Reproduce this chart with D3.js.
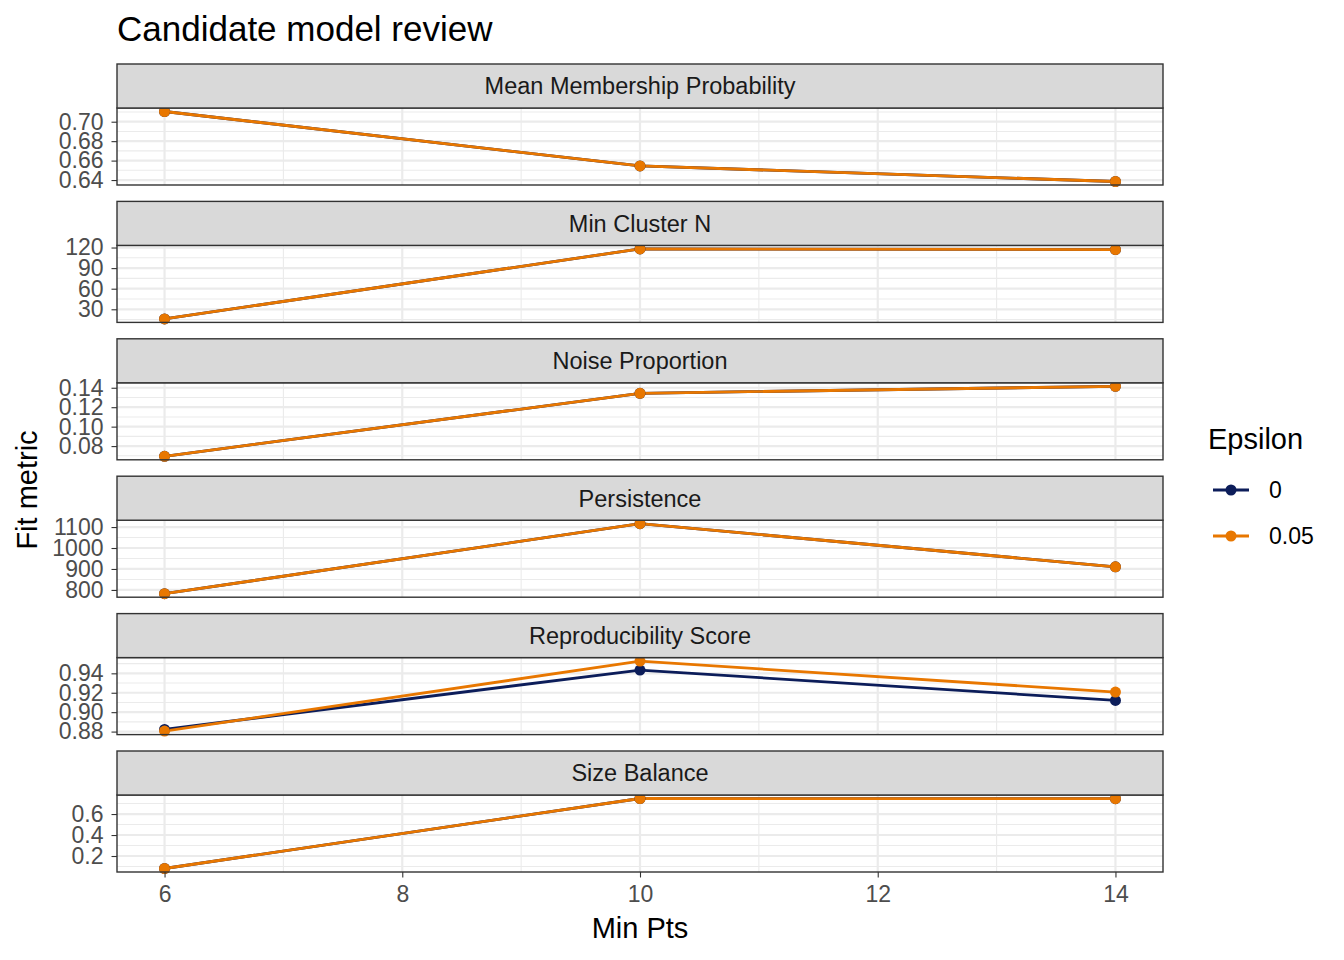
<!DOCTYPE html>
<html lang="en">
<head>
    <meta charset="UTF-8">
    <title>Candidate model review</title>
    <script src="https://d3js.org/d3.v7.min.js"></script>
    <style>
        body { margin: 0; background: #fff; }
        text { font-family: "Liberation Sans", Arial, sans-serif; }
    </style>
</head>
<body>
    <script type="text/javascript">

        // data
        var minPts = [6, 10, 14];
        var epsilons = ["0", "0.05"];
        var metrics = ["Mean Membership Probability", "Min Cluster N", "Noise Proportion",
            "Persistence", "Reproducibility Score", "Size Balance"];

        // one row per epsilon (0, 0.05)
        var meanMembership = [[0.7105, 0.6545, 0.6385], [0.7105, 0.6545, 0.6385]];
        var minClusterN = [[16, 118, 117], [16, 118, 117]];
        var noiseProportion = [[0.0695, 0.1343, 0.1415], [0.0695, 0.1343, 0.1415]];
        var persistence = [[782, 1116, 910], [782, 1116, 910]];
        var reproducibility = [[0.8822, 0.9434, 0.9121], [0.8805, 0.9526, 0.9207]];
        var sizeBalance = [[0.081, 0.748, 0.746], [0.081, 0.748, 0.746]];

        var metricValues = [meanMembership, minClusterN, noiseProportion, persistence, reproducibility, sizeBalance];

        // y tick labels per facet
        var ticksMean = [0.64, 0.66, 0.68, 0.70];
        var ticksMinN = [30, 60, 90, 120];
        var ticksNoise = [0.08, 0.10, 0.12, 0.14];
        var ticksPers = [800, 900, 1000, 1100];
        var ticksRepro = [0.88, 0.90, 0.92, 0.94];
        var ticksSize = [0.2, 0.4, 0.6];
        var metricTicks = [ticksMean, ticksMinN, ticksNoise, ticksPers, ticksRepro, ticksSize];
        var tickFormats = [".2f", "d", ".2f", "d", ".2f", ".1f"];

        var xTicks = [6, 8, 10, 12, 14];
        var colors = ["#0c1d5a", "#e87700"];

        var W = 1344, H = 960;
        var left = 117, right = 1163;
        var top0 = 64, stripH = 44, panelH = 77, step = 137.4;
        var tickFont = "23px", stripFont = "23.5px", titleFont = "29px";

        var svg = d3.select("body").append("svg")
            .attr("width", W)
            .attr("height", H);

        var x = d3.scaleLinear().domain([5.6, 14.4]).range([left, right]);

        svg.append("text")
            .attr("x", left)
            .attr("y", 41)
            .attr("font-size", "35px")
            .attr("fill", "#000")
            .text("Candidate model review");

        var line = d3.line();

        metrics.forEach(function (name, i) {
            var sTop = top0 + i * step;
            var pTop = sTop + stripH;
            var pBot = pTop + panelH;
            var vals = metricValues[i];
            var all = d3.merge(vals);
            var ext = d3.extent(all);
            var pad = (ext[1] - ext[0]) * 0.05;
            var y = d3.scaleLinear().domain([ext[0] - pad, ext[1] + pad]).range([pBot, pTop]);

            var g = svg.append("g");

            // minor grid
            var tk = metricTicks[i];
            var d = tk[1] - tk[0];
            var minor = [];
            for (var k = -1; k < tk.length; k++) {
                var m = tk[0] + (k + 0.5) * d;
                if (m > y.domain()[0] && m < y.domain()[1]) minor.push(m);
            }
            g.selectAll(".ymin").data(minor).enter().append("line")
                .attr("x1", left).attr("x2", right)
                .attr("y1", function (v) { return y(v); })
                .attr("y2", function (v) { return y(v); })
                .attr("stroke", "#ebebeb").attr("stroke-width", 1.1);
            g.selectAll(".xmin").data([7, 9, 11, 13]).enter().append("line")
                .attr("x1", function (v) { return x(v); })
                .attr("x2", function (v) { return x(v); })
                .attr("y1", pTop).attr("y2", pBot)
                .attr("stroke", "#ebebeb").attr("stroke-width", 1.1);
            // major grid
            g.selectAll(".ymaj").data(tk).enter().append("line")
                .attr("x1", left).attr("x2", right)
                .attr("y1", function (v) { return y(v); })
                .attr("y2", function (v) { return y(v); })
                .attr("stroke", "#ebebeb").attr("stroke-width", 2.2);
            g.selectAll(".xmaj").data(xTicks).enter().append("line")
                .attr("x1", function (v) { return x(v); })
                .attr("x2", function (v) { return x(v); })
                .attr("y1", pTop).attr("y2", pBot)
                .attr("stroke", "#ebebeb").attr("stroke-width", 2.2);

            // lines then points
            vals.forEach(function (row, s) {
                g.append("path")
                    .attr("d", line(row.map(function (v, j) { return [x(minPts[j]), y(v)]; })))
                    .attr("fill", "none")
                    .attr("stroke", colors[s])
                    .attr("stroke-width", 2.8);
            });
            vals.forEach(function (row, s) {
                g.selectAll(".pt" + s).data(row).enter().append("circle")
                    .attr("cx", function (v, j) { return x(minPts[j]); })
                    .attr("cy", function (v) { return y(v); })
                    .attr("r", 5.5)
                    .attr("fill", colors[s]);
            });

            // panel border
            g.append("rect")
                .attr("x", left).attr("y", pTop)
                .attr("width", right - left).attr("height", panelH)
                .attr("fill", "none").attr("stroke", "#333").attr("stroke-width", 1.4);

            // strip
            g.append("rect")
                .attr("x", left).attr("y", sTop)
                .attr("width", right - left).attr("height", stripH)
                .attr("fill", "#d9d9d9").attr("stroke", "#333").attr("stroke-width", 1.4);
            g.append("text")
                .attr("x", (left + right) / 2)
                .attr("y", sTop + stripH / 2)
                .attr("dy", "0.36em")
                .attr("text-anchor", "middle")
                .attr("font-size", stripFont)
                .attr("fill", "#1a1a1a")
                .text(name);

            // y axis
            var yAxis = d3.axisLeft(y).tickValues(tk).tickSize(5.5).tickPadding(8)
                .tickFormat(d3.format(tickFormats[i]));
            var ag = svg.append("g").attr("transform", "translate(" + left + ",0)").call(yAxis);
            ag.select(".domain").remove();
            ag.selectAll("line").attr("stroke", "#333").attr("stroke-width", 1.1);
            ag.selectAll("text").attr("font-size", tickFont).attr("fill", "#4d4d4d")
                .attr("font-family", "Liberation Sans, Arial, sans-serif");

            if (i === metrics.length - 1) {
                var xAxis = d3.axisBottom(x).tickValues(xTicks).tickSize(5.5).tickPadding(8)
                    .tickFormat(d3.format("d"));
                var xg = svg.append("g").attr("transform", "translate(0," + pBot + ")").call(xAxis);
                xg.select(".domain").remove();
                xg.selectAll("line").attr("stroke", "#333").attr("stroke-width", 1.1);
                xg.selectAll("text").attr("font-size", tickFont).attr("fill", "#4d4d4d")
                    .attr("font-family", "Liberation Sans, Arial, sans-serif");
            }
        });

        var lastBottom = top0 + 5 * step + stripH + panelH;

        svg.append("text")
            .attr("x", (left + right) / 2)
            .attr("y", 938)
            .attr("text-anchor", "middle")
            .attr("font-size", titleFont)
            .attr("fill", "#000")
            .text("Min Pts");

        svg.append("text")
            .attr("transform", "translate(37," + ((top0 + stripH + lastBottom) / 2) + ") rotate(-90)")
            .attr("text-anchor", "middle")
            .attr("font-size", titleFont)
            .attr("fill", "#000")
            .text("Fit metric");

        // legend
        var lg = svg.append("g");
        lg.append("text")
            .attr("x", 1208).attr("y", 449)
            .attr("font-size", titleFont).attr("fill", "#000")
            .text("Epsilon");
        epsilons.forEach(function (e, s) {
            var cy = 490 + s * 46;
            lg.append("line")
                .attr("x1", 1213).attr("x2", 1249)
                .attr("y1", cy).attr("y2", cy)
                .attr("stroke", colors[s]).attr("stroke-width", 2.8);
            lg.append("circle")
                .attr("cx", 1231).attr("cy", cy).attr("r", 5.5)
                .attr("fill", colors[s]);
            lg.append("text")
                .attr("x", 1269).attr("y", cy)
                .attr("dy", "0.36em")
                .attr("font-size", tickFont).attr("fill", "#000")
                .text(e);
        });

    </script>
</body>
</html>
